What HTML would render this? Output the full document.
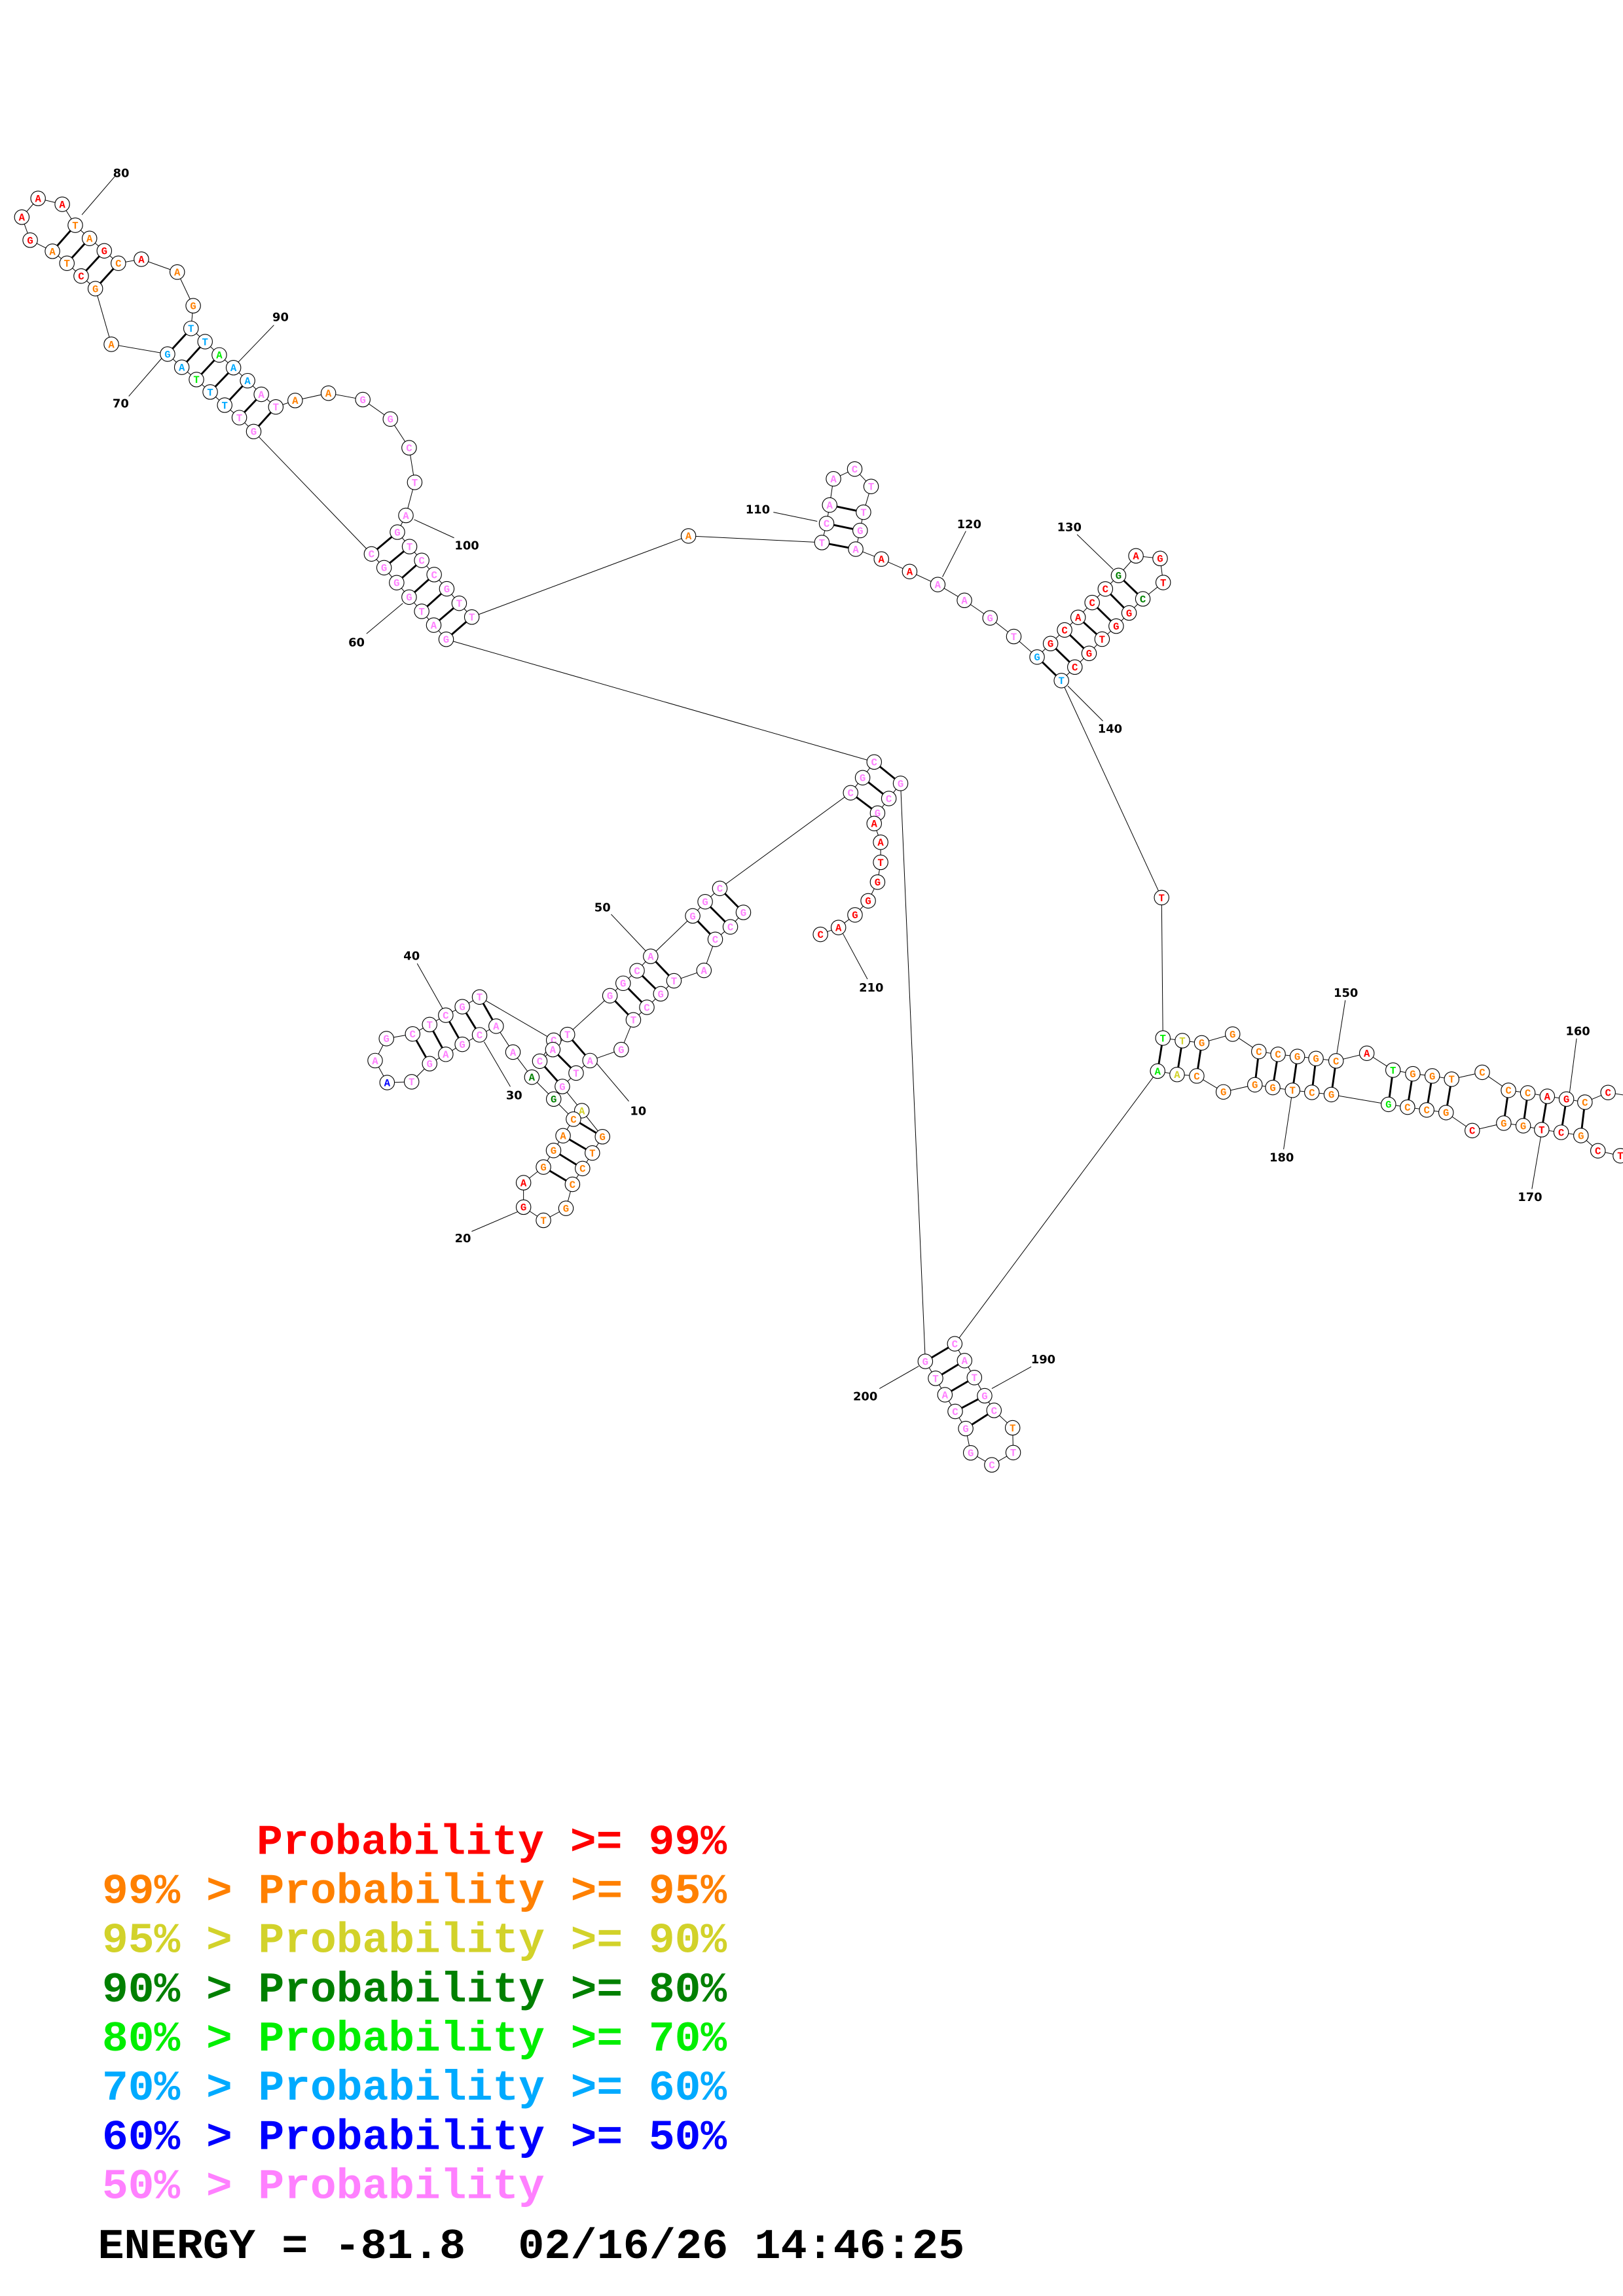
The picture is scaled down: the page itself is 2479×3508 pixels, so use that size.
<!DOCTYPE html>
<html><head><meta charset="utf-8">
<style>
html,body{margin:0;padding:0;background:#fff;}
svg{display:block;}
.n circle{fill:#fff;stroke:#000;stroke-width:0.5;}
.n text{font-family:"Liberation Mono","DejaVu Sans Mono",monospace;font-weight:bold;font-size:7px;text-anchor:middle;}
.r{fill:#ff0000}.o{fill:#ff8000}.y{fill:#d2d22a}.d{fill:#008000}.g{fill:#00ee00}.b{fill:#00aaff}.k{fill:#0000ff}.p{fill:#ff80ff}
.lab{font-family:"DejaVu Sans","Liberation Sans",sans-serif;font-weight:bold;font-size:8px;text-anchor:middle;dominant-baseline:central;fill:#000}
.leg{font-family:"Liberation Mono",monospace;font-weight:bold;font-size:29px;}
</style></head><body>
<svg width="2479" height="3508" viewBox="0 0 1108 1568" preserveAspectRatio="none" xmlns="http://www.w3.org/2000/svg">
<rect x="0" y="0" width="1108" height="1568" fill="#fff"/>
<!-- backbone -->
<polyline fill="none" stroke="#000" stroke-width="0.45" points="
507.5,623.1 498.6,633 488.3,641.5 480.6,662.7 460.1,669.8 451.1,678.7 441.6,687.9 432.4,696.5 424.1,716.8 402.8,724.3
393.3,732.8 383.9,742 397.2,758.5 411.3,776.3 404.4,787.4 397.7,798 390.8,808.8 386.4,825.2 371,833.4 357.4,824.4
357.4,807.7 371,797 377.9,785.7 384.4,775.6 391.5,764.3 378,750.6 363.1,735.6 350.2,718.5 338.7,700.8 327.4,706.7
315.6,713.2 304.3,720 293.3,726.4 281,738.8 264.3,739.3 256.1,724.3 263.8,709.3 281.7,706.1 293.3,699.7 304.3,693.3
315.6,687.5 327.4,680.9 378,710.4 368.5,724.7 377.4,716.8 387.4,706.5 416.4,680 425.4,671.5 434.9,662.9 444.2,653.1
472.9,625.5 481.4,615.8 491.4,606.7 580.7,541.4 588.9,531.1 596.8,520.4 304.6,436.6 296.1,426.9 287.9,417.5 279.3,407.8
270.8,397.9 262.2,387.7 253.6,378.3 173.2,294.7 163.4,285.2 153.4,276.7 143.5,267.7 134.1,259.2 124.1,250.8 114.4,241.8
76,235.1 65.1,197.1 55.4,188.5 45.7,179.8 35.8,171.6 20.6,164 14.9,148.3 26,135.5 42.5,139.5 51.4,153.8
61.1,162.8 71.2,171.3 80.8,179.8 96.5,177 121,185.8 131.9,208.8 130.4,224.3 140,233.3 149.7,242.4 159.4,251.1
169,260 178.4,269.3 188.3,277.9 201.5,273.5 224.2,268.5 247.7,272.9 266.5,286.2 279.3,305.8 283.1,329.4 277.1,352
271.3,363.4 279.6,373.3 287.9,382.7 296.4,392.4 305,402.1 313.5,412 322.1,421.4 470,366 561.1,370.5 564.3,357.5
566.4,344.9 569,327 583.5,320.3 594.7,332.2 589.5,349.8 587.2,362.3 584.2,375 601.7,381.8 621,390.3 640.2,399.2
658.4,410 675.9,422 692.1,434.7 708,448.7 717.2,439.5 726.8,430.2 736,421.6 745.6,411.5 754.6,402.2 763.6,393
775.5,379.6 792,381.4 794.1,397.8 780.2,409 770.8,418.6 762,427.6 752.4,436.5 743.5,446.2 733.8,455.6 724.6,464.8
793,613 793.9,708.9 807.2,710.7 820.4,712.2 841.5,706.2 859.4,718.1 872.5,720 885.7,721.5 898.4,722.9 912.1,724.5
933.1,719.3 951,730.8 964.5,733.3 977.8,734.8 991,737 1011.9,732.3 1029.8,744.6 1043,746.4 1056.3,748.7 1069.4,750.6
1082,752.7 1097.8,746.1 1116,749"/>
<polyline fill="none" stroke="#000" stroke-width="0.45" points="
1120,792 1106.2,789.3 1090.9,785.9 1079.3,775.5 1065.8,773.3 1052.5,771.5 1039.9,768.8 1026.6,767 1005.1,772.1 987.2,759.8
974,758 960.9,756.1 947.9,754.2 908.9,747.5 895.6,746 882.4,744.6 868.9,742.7 856.7,740.8 835.2,745.7 817,734.8
803.6,733.8 790.3,731.5 651.8,917.7 658.5,929.2 665.2,940.8 672.2,953.2 678.6,963.2 691.3,975.1 691.7,992 677.1,1000.4
662.7,992.2 659.3,975.6 652.1,963.9 645.1,952.5 638.7,941.3 631.7,929.7 614.8,535 606.8,545.3 599.1,555.3 596.8,562.4
601.2,575.2 601.2,588.9 599.1,602.4 592.7,615.2 583.7,624.8 572.4,633.4 560.1,638.1"/>
<!-- pairs -->
<g stroke="#000" stroke-width="1.3">
<line x1="507.5" y1="623.1" x2="491.4" y2="606.7"/><line x1="498.6" y1="633" x2="481.4" y2="615.8"/><line x1="488.3" y1="641.5" x2="472.9" y2="625.5"/>
<line x1="460.1" y1="669.8" x2="444.2" y2="653.1"/><line x1="451.1" y1="678.7" x2="434.9" y2="662.9"/><line x1="441.6" y1="687.9" x2="425.4" y2="671.5"/><line x1="432.4" y1="696.5" x2="416.4" y2="680"/>
<line x1="402.8" y1="724.3" x2="387.4" y2="706.5"/><line x1="393.3" y1="732.8" x2="377.4" y2="716.8"/><line x1="383.9" y1="742" x2="368.5" y2="724.7"/>
<line x1="411.3" y1="776.3" x2="391.5" y2="764.3"/><line x1="404.4" y1="787.4" x2="384.4" y2="775.6"/><line x1="397.7" y1="798" x2="377.9" y2="785.7"/><line x1="390.8" y1="808.8" x2="371" y2="797"/>
<line x1="338.7" y1="700.8" x2="327.4" y2="680.9"/><line x1="327.4" y1="706.7" x2="315.6" y2="687.5"/><line x1="315.6" y1="713.2" x2="304.3" y2="693.3"/><line x1="304.3" y1="720" x2="293.3" y2="699.7"/><line x1="293.3" y1="726.4" x2="281.7" y2="706.1"/>
<line x1="580.7" y1="541.4" x2="599.1" y2="555.3"/><line x1="588.9" y1="531.1" x2="606.8" y2="545.3"/><line x1="596.8" y1="520.4" x2="614.8" y2="535"/>
<line x1="304.6" y1="436.6" x2="322.1" y2="421.4"/><line x1="296.1" y1="426.9" x2="313.5" y2="412"/><line x1="287.9" y1="417.5" x2="305" y2="402.1"/><line x1="279.3" y1="407.8" x2="296.4" y2="392.4"/><line x1="270.8" y1="397.9" x2="287.9" y2="382.7"/><line x1="262.2" y1="387.7" x2="279.6" y2="373.3"/><line x1="253.6" y1="378.3" x2="271.3" y2="363.4"/>
<line x1="173.2" y1="294.7" x2="188.3" y2="277.9"/><line x1="163.4" y1="285.2" x2="178.4" y2="269.3"/><line x1="153.4" y1="276.7" x2="169" y2="260"/><line x1="143.5" y1="267.7" x2="159.4" y2="251.1"/><line x1="134.1" y1="259.2" x2="149.7" y2="242.4"/><line x1="124.1" y1="250.8" x2="140" y2="233.3"/><line x1="114.4" y1="241.8" x2="130.4" y2="224.3"/>
<line x1="65.1" y1="197.1" x2="80.8" y2="179.8"/><line x1="55.4" y1="188.5" x2="71.2" y2="171.3"/><line x1="45.7" y1="179.8" x2="61.1" y2="162.8"/><line x1="35.8" y1="171.6" x2="51.4" y2="153.8"/>
<line x1="561.1" y1="370.5" x2="584.2" y2="375"/><line x1="564.3" y1="357.5" x2="587.2" y2="362.3"/><line x1="566.4" y1="344.9" x2="589.5" y2="349.8"/>
<line x1="708" y1="448.7" x2="724.6" y2="464.8"/><line x1="717.2" y1="439.5" x2="733.8" y2="455.6"/><line x1="726.8" y1="430.2" x2="743.5" y2="446.2"/><line x1="736" y1="421.6" x2="752.4" y2="436.5"/><line x1="745.6" y1="411.5" x2="762" y2="427.6"/><line x1="754.6" y1="402.2" x2="770.8" y2="418.6"/><line x1="763.6" y1="393" x2="780.2" y2="409"/>
<line x1="793.9" y1="708.9" x2="790.3" y2="731.5"/><line x1="807.2" y1="710.7" x2="803.6" y2="733.8"/><line x1="820.4" y1="712.2" x2="817" y2="734.8"/>
<line x1="859.4" y1="718.1" x2="856.7" y2="740.8"/><line x1="872.5" y1="720" x2="868.9" y2="742.7"/><line x1="885.7" y1="721.5" x2="882.4" y2="744.6"/><line x1="898.4" y1="722.9" x2="895.6" y2="746"/><line x1="912.1" y1="724.5" x2="908.9" y2="747.5"/>
<line x1="951" y1="730.8" x2="947.9" y2="754.2"/><line x1="964.5" y1="733.3" x2="960.9" y2="756.1"/><line x1="977.8" y1="734.8" x2="974" y2="758"/><line x1="991" y1="737" x2="987.2" y2="759.8"/>
<line x1="1029.8" y1="744.6" x2="1026.6" y2="767"/><line x1="1043" y1="746.4" x2="1039.9" y2="768.8"/><line x1="1056.3" y1="748.7" x2="1052.5" y2="771.5"/><line x1="1069.4" y1="750.6" x2="1065.8" y2="773.3"/><line x1="1082" y1="752.7" x2="1079.3" y2="775.5"/>
<line x1="631.7" y1="929.7" x2="651.8" y2="917.7"/><line x1="638.7" y1="941.3" x2="658.5" y2="929.2"/><line x1="645.1" y1="952.5" x2="665.2" y2="940.8"/><line x1="652.1" y1="963.9" x2="672.2" y2="953.2"/><line x1="659.3" y1="975.6" x2="678.6" y2="963.2"/>
</g>
<!-- number labels -->
<g stroke="#000" stroke-width="0.45">
<line x1="407.5" y1="726.4" x2="429.3" y2="752.1"/><line x1="357" y1="826" x2="322" y2="841"/><line x1="330.5" y1="711.5" x2="348.4" y2="742.1"/>
<line x1="284.8" y1="658" x2="302.3" y2="689"/><line x1="417.2" y1="624.4" x2="440.8" y2="649.4"/><line x1="250.2" y1="432.8" x2="275" y2="412"/>
<line x1="87.9" y1="270.6" x2="111" y2="244"/><line x1="55.9" y1="146.7" x2="78.2" y2="120.7"/><line x1="162" y1="248" x2="187" y2="222"/>
<line x1="282.7" y1="354.8" x2="310" y2="367.3"/><line x1="528" y1="349.8" x2="557.9" y2="356"/><line x1="643.4" y1="394" x2="659.4" y2="362.7"/>
<line x1="735.3" y1="365" x2="759.9" y2="388.8"/><line x1="729" y1="468.5" x2="752.9" y2="492.4"/><line x1="918.4" y1="683.1" x2="912.5" y2="720.4"/>
<line x1="1076.3" y1="709.2" x2="1071.5" y2="746.4"/><line x1="1045.8" y1="812" x2="1051.9" y2="776.2"/><line x1="876.3" y1="784.9" x2="882" y2="747.2"/>
<line x1="704" y1="933.4" x2="677.1" y2="948.3"/><line x1="600.4" y1="948.3" x2="627.2" y2="933"/><line x1="592.2" y1="668.7" x2="575.5" y2="637.7"/>
</g>
<g class="lab">
<text x="435.7" y="759">10</text><text x="316" y="846">20</text><text x="351" y="748.3">30</text><text x="281" y="653.1">40</text>
<text x="411.3" y="619.9">50</text><text x="243.4" y="439">60</text><text x="82.4" y="275.7">70</text><text x="82.7" y="118.4">80</text>
<text x="191.5" y="216.8">90</text><text x="318.7" y="372.8">100</text><text x="517.3" y="348.3">110</text><text x="661.6" y="358.3">120</text>
<text x="730" y="360.2">130</text><text x="757.8" y="497.9">140</text><text x="918.8" y="678.2">150</text><text x="1077.2" y="704.4">160</text>
<text x="1044.5" y="817.7">170</text><text x="875" y="790.7">180</text><text x="712.2" y="928.5">190</text><text x="590.7" y="953.8">200</text>
<text x="594.8" y="674.7">210</text>
</g>
<!-- nodes -->
<g class="n">
<circle cx="507.5" cy="623.1" r="5"/><text x="507.5" y="625.5" class="p">G</text>
<circle cx="498.6" cy="633" r="5"/><text x="498.6" y="635.4" class="p">C</text>
<circle cx="488.3" cy="641.5" r="5"/><text x="488.3" y="643.9" class="p">C</text>
<circle cx="480.6" cy="662.7" r="5"/><text x="480.6" y="665.1" class="p">A</text>
<circle cx="460.1" cy="669.8" r="5"/><text x="460.1" y="672.2" class="p">T</text>
<circle cx="451.1" cy="678.7" r="5"/><text x="451.1" y="681.1" class="p">G</text>
<circle cx="441.6" cy="687.9" r="5"/><text x="441.6" y="690.3" class="p">C</text>
<circle cx="432.4" cy="696.5" r="5"/><text x="432.4" y="698.9" class="p">T</text>
<circle cx="424.1" cy="716.8" r="5"/><text x="424.1" y="719.2" class="p">G</text>
<circle cx="402.8" cy="724.3" r="5"/><text x="402.8" y="726.7" class="p">A</text>
<circle cx="393.3" cy="732.8" r="5"/><text x="393.3" y="735.2" class="p">T</text>
<circle cx="383.9" cy="742" r="5"/><text x="383.9" y="744.4" class="p">G</text>
<circle cx="397.2" cy="758.5" r="5"/><text x="397.2" y="760.9" class="y">A</text>
<circle cx="411.3" cy="776.3" r="5"/><text x="411.3" y="778.7" class="o">G</text>
<circle cx="404.4" cy="787.4" r="5"/><text x="404.4" y="789.8" class="o">T</text>
<circle cx="397.7" cy="798" r="5"/><text x="397.7" y="800.4" class="o">C</text>
<circle cx="390.8" cy="808.8" r="5"/><text x="390.8" y="811.2" class="o">C</text>
<circle cx="386.4" cy="825.2" r="5"/><text x="386.4" y="827.6" class="o">G</text>
<circle cx="371" cy="833.4" r="5"/><text x="371" y="835.8" class="o">T</text>
<circle cx="357.4" cy="824.4" r="5"/><text x="357.4" y="826.8" class="r">G</text>
<circle cx="357.4" cy="807.7" r="5"/><text x="357.4" y="810.1" class="r">A</text>
<circle cx="371" cy="797" r="5"/><text x="371" y="799.4" class="o">G</text>
<circle cx="377.9" cy="785.7" r="5"/><text x="377.9" y="788.1" class="o">G</text>
<circle cx="384.4" cy="775.6" r="5"/><text x="384.4" y="778" class="o">A</text>
<circle cx="391.5" cy="764.3" r="5"/><text x="391.5" y="766.7" class="o">C</text>
<circle cx="378" cy="750.6" r="5"/><text x="378" y="753" class="d">G</text>
<circle cx="363.1" cy="735.6" r="5"/><text x="363.1" y="738" class="d">A</text>
<circle cx="350.2" cy="718.5" r="5"/><text x="350.2" y="720.9" class="p">A</text>
<circle cx="338.7" cy="700.8" r="5"/><text x="338.7" y="703.2" class="p">A</text>
<circle cx="327.4" cy="706.7" r="5"/><text x="327.4" y="709.1" class="p">C</text>
<circle cx="315.6" cy="713.2" r="5"/><text x="315.6" y="715.6" class="p">G</text>
<circle cx="304.3" cy="720" r="5"/><text x="304.3" y="722.4" class="p">A</text>
<circle cx="293.3" cy="726.4" r="5"/><text x="293.3" y="728.8" class="p">G</text>
<circle cx="281" cy="738.8" r="5"/><text x="281" y="741.2" class="p">T</text>
<circle cx="264.3" cy="739.3" r="5"/><text x="264.3" y="741.7" class="k">A</text>
<circle cx="256.1" cy="724.3" r="5"/><text x="256.1" y="726.7" class="p">A</text>
<circle cx="263.8" cy="709.3" r="5"/><text x="263.8" y="711.7" class="p">G</text>
<circle cx="281.7" cy="706.1" r="5"/><text x="281.7" y="708.5" class="p">C</text>
<circle cx="293.3" cy="699.7" r="5"/><text x="293.3" y="702.1" class="p">T</text>
<circle cx="304.3" cy="693.3" r="5"/><text x="304.3" y="695.7" class="p">C</text>
<circle cx="315.6" cy="687.5" r="5"/><text x="315.6" y="689.9" class="p">G</text>
<circle cx="327.4" cy="680.9" r="5"/><text x="327.4" y="683.3" class="p">T</text>
<circle cx="378" cy="710.4" r="5"/><text x="378" y="712.8" class="p">C</text>
<circle cx="368.5" cy="724.7" r="5"/><text x="368.5" y="727.1" class="p">C</text>
<circle cx="377.4" cy="716.8" r="5"/><text x="377.4" y="719.2" class="p">A</text>
<circle cx="387.4" cy="706.5" r="5"/><text x="387.4" y="708.9" class="p">T</text>
<circle cx="416.4" cy="680" r="5"/><text x="416.4" y="682.4" class="p">G</text>
<circle cx="425.4" cy="671.5" r="5"/><text x="425.4" y="673.9" class="p">G</text>
<circle cx="434.9" cy="662.9" r="5"/><text x="434.9" y="665.3" class="p">C</text>
<circle cx="444.2" cy="653.1" r="5"/><text x="444.2" y="655.5" class="p">A</text>
<circle cx="472.9" cy="625.5" r="5"/><text x="472.9" y="627.9" class="p">G</text>
<circle cx="481.4" cy="615.8" r="5"/><text x="481.4" y="618.2" class="p">G</text>
<circle cx="491.4" cy="606.7" r="5"/><text x="491.4" y="609.1" class="p">C</text>
<circle cx="580.7" cy="541.4" r="5"/><text x="580.7" y="543.8" class="p">C</text>
<circle cx="588.9" cy="531.1" r="5"/><text x="588.9" y="533.5" class="p">G</text>
<circle cx="596.8" cy="520.4" r="5"/><text x="596.8" y="522.8" class="p">C</text>
<circle cx="304.6" cy="436.6" r="5"/><text x="304.6" y="439" class="p">G</text>
<circle cx="296.1" cy="426.9" r="5"/><text x="296.1" y="429.3" class="p">A</text>
<circle cx="287.9" cy="417.5" r="5"/><text x="287.9" y="419.9" class="p">T</text>
<circle cx="279.3" cy="407.8" r="5"/><text x="279.3" y="410.2" class="p">G</text>
<circle cx="270.8" cy="397.9" r="5"/><text x="270.8" y="400.3" class="p">G</text>
<circle cx="262.2" cy="387.7" r="5"/><text x="262.2" y="390.1" class="p">G</text>
<circle cx="253.6" cy="378.3" r="5"/><text x="253.6" y="380.7" class="p">C</text>
<circle cx="173.2" cy="294.7" r="5"/><text x="173.2" y="297.1" class="p">G</text>
<circle cx="163.4" cy="285.2" r="5"/><text x="163.4" y="287.6" class="p">T</text>
<circle cx="153.4" cy="276.7" r="5"/><text x="153.4" y="279.1" class="b">T</text>
<circle cx="143.5" cy="267.7" r="5"/><text x="143.5" y="270.1" class="b">T</text>
<circle cx="134.1" cy="259.2" r="5"/><text x="134.1" y="261.6" class="g">T</text>
<circle cx="124.1" cy="250.8" r="5"/><text x="124.1" y="253.2" class="b">A</text>
<circle cx="114.4" cy="241.8" r="5"/><text x="114.4" y="244.2" class="b">G</text>
<circle cx="76" cy="235.1" r="5"/><text x="76" y="237.5" class="o">A</text>
<circle cx="65.1" cy="197.1" r="5"/><text x="65.1" y="199.5" class="o">G</text>
<circle cx="55.4" cy="188.5" r="5"/><text x="55.4" y="190.9" class="r">C</text>
<circle cx="45.7" cy="179.8" r="5"/><text x="45.7" y="182.2" class="o">T</text>
<circle cx="35.8" cy="171.6" r="5"/><text x="35.8" y="174" class="o">A</text>
<circle cx="20.6" cy="164" r="5"/><text x="20.6" y="166.4" class="r">G</text>
<circle cx="14.9" cy="148.3" r="5"/><text x="14.9" y="150.7" class="r">A</text>
<circle cx="26" cy="135.5" r="5"/><text x="26" y="137.9" class="r">A</text>
<circle cx="42.5" cy="139.5" r="5"/><text x="42.5" y="141.9" class="r">A</text>
<circle cx="51.4" cy="153.8" r="5"/><text x="51.4" y="156.2" class="o">T</text>
<circle cx="61.1" cy="162.8" r="5"/><text x="61.1" y="165.2" class="o">A</text>
<circle cx="71.2" cy="171.3" r="5"/><text x="71.2" y="173.7" class="r">G</text>
<circle cx="80.8" cy="179.8" r="5"/><text x="80.8" y="182.2" class="o">C</text>
<circle cx="96.5" cy="177" r="5"/><text x="96.5" y="179.4" class="r">A</text>
<circle cx="121" cy="185.8" r="5"/><text x="121" y="188.2" class="o">A</text>
<circle cx="131.9" cy="208.8" r="5"/><text x="131.9" y="211.2" class="o">G</text>
<circle cx="130.4" cy="224.3" r="5"/><text x="130.4" y="226.7" class="b">T</text>
<circle cx="140" cy="233.3" r="5"/><text x="140" y="235.7" class="b">T</text>
<circle cx="149.7" cy="242.4" r="5"/><text x="149.7" y="244.8" class="g">A</text>
<circle cx="159.4" cy="251.1" r="5"/><text x="159.4" y="253.5" class="b">A</text>
<circle cx="169" cy="260" r="5"/><text x="169" y="262.4" class="b">A</text>
<circle cx="178.4" cy="269.3" r="5"/><text x="178.4" y="271.7" class="p">A</text>
<circle cx="188.3" cy="277.9" r="5"/><text x="188.3" y="280.3" class="p">T</text>
<circle cx="201.5" cy="273.5" r="5"/><text x="201.5" y="275.9" class="o">A</text>
<circle cx="224.2" cy="268.5" r="5"/><text x="224.2" y="270.9" class="o">A</text>
<circle cx="247.7" cy="272.9" r="5"/><text x="247.7" y="275.3" class="p">G</text>
<circle cx="266.5" cy="286.2" r="5"/><text x="266.5" y="288.6" class="p">G</text>
<circle cx="279.3" cy="305.8" r="5"/><text x="279.3" y="308.2" class="p">C</text>
<circle cx="283.1" cy="329.4" r="5"/><text x="283.1" y="331.8" class="p">T</text>
<circle cx="277.1" cy="352" r="5"/><text x="277.1" y="354.4" class="p">A</text>
<circle cx="271.3" cy="363.4" r="5"/><text x="271.3" y="365.8" class="p">G</text>
<circle cx="279.6" cy="373.3" r="5"/><text x="279.6" y="375.7" class="p">T</text>
<circle cx="287.9" cy="382.7" r="5"/><text x="287.9" y="385.1" class="p">C</text>
<circle cx="296.4" cy="392.4" r="5"/><text x="296.4" y="394.8" class="p">C</text>
<circle cx="305" cy="402.1" r="5"/><text x="305" y="404.5" class="p">G</text>
<circle cx="313.5" cy="412" r="5"/><text x="313.5" y="414.4" class="p">T</text>
<circle cx="322.1" cy="421.4" r="5"/><text x="322.1" y="423.8" class="p">T</text>
<circle cx="470" cy="366" r="5"/><text x="470" y="368.4" class="o">A</text>
<circle cx="561.1" cy="370.5" r="5"/><text x="561.1" y="372.9" class="p">T</text>
<circle cx="564.3" cy="357.5" r="5"/><text x="564.3" y="359.9" class="p">C</text>
<circle cx="566.4" cy="344.9" r="5"/><text x="566.4" y="347.3" class="p">A</text>
<circle cx="569" cy="327" r="5"/><text x="569" y="329.4" class="p">A</text>
<circle cx="583.5" cy="320.3" r="5"/><text x="583.5" y="322.7" class="p">C</text>
<circle cx="594.7" cy="332.2" r="5"/><text x="594.7" y="334.6" class="p">T</text>
<circle cx="589.5" cy="349.8" r="5"/><text x="589.5" y="352.2" class="p">T</text>
<circle cx="587.2" cy="362.3" r="5"/><text x="587.2" y="364.7" class="p">G</text>
<circle cx="584.2" cy="375" r="5"/><text x="584.2" y="377.4" class="p">A</text>
<circle cx="601.7" cy="381.8" r="5"/><text x="601.7" y="384.2" class="r">A</text>
<circle cx="621" cy="390.3" r="5"/><text x="621" y="392.7" class="r">A</text>
<circle cx="640.2" cy="399.2" r="5"/><text x="640.2" y="401.6" class="p">A</text>
<circle cx="658.4" cy="410" r="5"/><text x="658.4" y="412.4" class="p">A</text>
<circle cx="675.9" cy="422" r="5"/><text x="675.9" y="424.4" class="p">G</text>
<circle cx="692.1" cy="434.7" r="5"/><text x="692.1" y="437.1" class="p">T</text>
<circle cx="708" cy="448.7" r="5"/><text x="708" y="451.1" class="b">G</text>
<circle cx="717.2" cy="439.5" r="5"/><text x="717.2" y="441.9" class="r">G</text>
<circle cx="726.8" cy="430.2" r="5"/><text x="726.8" y="432.6" class="r">C</text>
<circle cx="736" cy="421.6" r="5"/><text x="736" y="424" class="r">A</text>
<circle cx="745.6" cy="411.5" r="5"/><text x="745.6" y="413.9" class="r">C</text>
<circle cx="754.6" cy="402.2" r="5"/><text x="754.6" y="404.6" class="r">C</text>
<circle cx="763.6" cy="393" r="5"/><text x="763.6" y="395.4" class="d">G</text>
<circle cx="775.5" cy="379.6" r="5"/><text x="775.5" y="382" class="r">A</text>
<circle cx="792" cy="381.4" r="5"/><text x="792" y="383.8" class="r">G</text>
<circle cx="794.1" cy="397.8" r="5"/><text x="794.1" y="400.2" class="r">T</text>
<circle cx="780.2" cy="409" r="5"/><text x="780.2" y="411.4" class="d">C</text>
<circle cx="770.8" cy="418.6" r="5"/><text x="770.8" y="421" class="r">G</text>
<circle cx="762" cy="427.6" r="5"/><text x="762" y="430" class="r">G</text>
<circle cx="752.4" cy="436.5" r="5"/><text x="752.4" y="438.9" class="r">T</text>
<circle cx="743.5" cy="446.2" r="5"/><text x="743.5" y="448.6" class="r">G</text>
<circle cx="733.8" cy="455.6" r="5"/><text x="733.8" y="458" class="r">C</text>
<circle cx="724.6" cy="464.8" r="5"/><text x="724.6" y="467.2" class="b">T</text>
<circle cx="793" cy="613" r="5"/><text x="793" y="615.4" class="r">T</text>
<circle cx="793.9" cy="708.9" r="5"/><text x="793.9" y="711.3" class="g">T</text>
<circle cx="807.2" cy="710.7" r="5"/><text x="807.2" y="713.1" class="y">T</text>
<circle cx="820.4" cy="712.2" r="5"/><text x="820.4" y="714.6" class="o">G</text>
<circle cx="841.5" cy="706.2" r="5"/><text x="841.5" y="708.6" class="o">G</text>
<circle cx="859.4" cy="718.1" r="5"/><text x="859.4" y="720.5" class="o">C</text>
<circle cx="872.5" cy="720" r="5"/><text x="872.5" y="722.4" class="o">C</text>
<circle cx="885.7" cy="721.5" r="5"/><text x="885.7" y="723.9" class="o">G</text>
<circle cx="898.4" cy="722.9" r="5"/><text x="898.4" y="725.3" class="o">G</text>
<circle cx="912.1" cy="724.5" r="5"/><text x="912.1" y="726.9" class="o">C</text>
<circle cx="933.1" cy="719.3" r="5"/><text x="933.1" y="721.7" class="r">A</text>
<circle cx="951" cy="730.8" r="5"/><text x="951" y="733.2" class="g">T</text>
<circle cx="964.5" cy="733.3" r="5"/><text x="964.5" y="735.7" class="o">G</text>
<circle cx="977.8" cy="734.8" r="5"/><text x="977.8" y="737.2" class="o">G</text>
<circle cx="991" cy="737" r="5"/><text x="991" y="739.4" class="o">T</text>
<circle cx="1011.9" cy="732.3" r="5"/><text x="1011.9" y="734.7" class="o">C</text>
<circle cx="1029.8" cy="744.6" r="5"/><text x="1029.8" y="747" class="o">C</text>
<circle cx="1043" cy="746.4" r="5"/><text x="1043" y="748.8" class="o">C</text>
<circle cx="1056.3" cy="748.7" r="5"/><text x="1056.3" y="751.1" class="r">A</text>
<circle cx="1069.4" cy="750.6" r="5"/><text x="1069.4" y="753" class="r">G</text>
<circle cx="1082" cy="752.7" r="5"/><text x="1082" y="755.1" class="o">C</text>
<circle cx="1097.8" cy="746.1" r="5"/><text x="1097.8" y="748.5" class="r">C</text>
<circle cx="1106.2" cy="789.3" r="5"/><text x="1106.2" y="791.7" class="r">T</text>
<circle cx="1090.9" cy="785.9" r="5"/><text x="1090.9" y="788.3" class="r">C</text>
<circle cx="1079.3" cy="775.5" r="5"/><text x="1079.3" y="777.9" class="o">G</text>
<circle cx="1065.8" cy="773.3" r="5"/><text x="1065.8" y="775.7" class="r">C</text>
<circle cx="1052.5" cy="771.5" r="5"/><text x="1052.5" y="773.9" class="r">T</text>
<circle cx="1039.9" cy="768.8" r="5"/><text x="1039.9" y="771.2" class="o">G</text>
<circle cx="1026.6" cy="767" r="5"/><text x="1026.6" y="769.4" class="o">G</text>
<circle cx="1005.1" cy="772.1" r="5"/><text x="1005.1" y="774.5" class="r">C</text>
<circle cx="987.2" cy="759.8" r="5"/><text x="987.2" y="762.2" class="o">G</text>
<circle cx="974" cy="758" r="5"/><text x="974" y="760.4" class="o">C</text>
<circle cx="960.9" cy="756.1" r="5"/><text x="960.9" y="758.5" class="o">C</text>
<circle cx="947.9" cy="754.2" r="5"/><text x="947.9" y="756.6" class="g">G</text>
<circle cx="908.9" cy="747.5" r="5"/><text x="908.9" y="749.9" class="o">G</text>
<circle cx="895.6" cy="746" r="5"/><text x="895.6" y="748.4" class="o">C</text>
<circle cx="882.4" cy="744.6" r="5"/><text x="882.4" y="747" class="o">T</text>
<circle cx="868.9" cy="742.7" r="5"/><text x="868.9" y="745.1" class="o">G</text>
<circle cx="856.7" cy="740.8" r="5"/><text x="856.7" y="743.2" class="o">G</text>
<circle cx="835.2" cy="745.7" r="5"/><text x="835.2" y="748.1" class="o">G</text>
<circle cx="817" cy="734.8" r="5"/><text x="817" y="737.2" class="o">C</text>
<circle cx="803.6" cy="733.8" r="5"/><text x="803.6" y="736.2" class="y">A</text>
<circle cx="790.3" cy="731.5" r="5"/><text x="790.3" y="733.9" class="g">A</text>
<circle cx="651.8" cy="917.7" r="5"/><text x="651.8" y="920.1" class="p">C</text>
<circle cx="658.5" cy="929.2" r="5"/><text x="658.5" y="931.6" class="p">A</text>
<circle cx="665.2" cy="940.8" r="5"/><text x="665.2" y="943.2" class="p">T</text>
<circle cx="672.2" cy="953.2" r="5"/><text x="672.2" y="955.6" class="p">G</text>
<circle cx="678.6" cy="963.2" r="5"/><text x="678.6" y="965.6" class="p">C</text>
<circle cx="691.3" cy="975.1" r="5"/><text x="691.3" y="977.5" class="o">T</text>
<circle cx="691.7" cy="992" r="5"/><text x="691.7" y="994.4" class="p">T</text>
<circle cx="677.1" cy="1000.4" r="5"/><text x="677.1" y="1002.8" class="p">C</text>
<circle cx="662.7" cy="992.2" r="5"/><text x="662.7" y="994.6" class="p">G</text>
<circle cx="659.3" cy="975.6" r="5"/><text x="659.3" y="978" class="p">G</text>
<circle cx="652.1" cy="963.9" r="5"/><text x="652.1" y="966.3" class="p">C</text>
<circle cx="645.1" cy="952.5" r="5"/><text x="645.1" y="954.9" class="p">A</text>
<circle cx="638.7" cy="941.3" r="5"/><text x="638.7" y="943.7" class="p">T</text>
<circle cx="631.7" cy="929.7" r="5"/><text x="631.7" y="932.1" class="p">G</text>
<circle cx="614.8" cy="535" r="5"/><text x="614.8" y="537.4" class="p">G</text>
<circle cx="606.8" cy="545.3" r="5"/><text x="606.8" y="547.7" class="p">C</text>
<circle cx="599.1" cy="555.3" r="5"/><text x="599.1" y="557.7" class="p">G</text>
<circle cx="596.8" cy="562.4" r="5"/><text x="596.8" y="564.8" class="r">A</text>
<circle cx="601.2" cy="575.2" r="5"/><text x="601.2" y="577.6" class="r">A</text>
<circle cx="601.2" cy="588.9" r="5"/><text x="601.2" y="591.3" class="r">T</text>
<circle cx="599.1" cy="602.4" r="5"/><text x="599.1" y="604.8" class="r">G</text>
<circle cx="592.7" cy="615.2" r="5"/><text x="592.7" y="617.6" class="r">G</text>
<circle cx="583.7" cy="624.8" r="5"/><text x="583.7" y="627.2" class="r">G</text>
<circle cx="572.4" cy="633.4" r="5"/><text x="572.4" y="635.8" class="r">A</text>
<circle cx="560.1" cy="638.1" r="5"/><text x="560.1" y="640.5" class="r">C</text>
</g>
<!-- legend -->
<g class="leg">
<text x="175.2" y="1266" fill="#ff0000" textLength="321" lengthAdjust="spacingAndGlyphs">Probability &gt;= 99%</text>
<text x="69.7" y="1299.6" fill="#ff8000" textLength="426.5" lengthAdjust="spacingAndGlyphs">99% &gt; Probability &gt;= 95%</text>
<text x="69.7" y="1333.2" fill="#d2d22a" textLength="426.5" lengthAdjust="spacingAndGlyphs">95% &gt; Probability &gt;= 90%</text>
<text x="69.7" y="1366.8" fill="#008000" textLength="426.5" lengthAdjust="spacingAndGlyphs">90% &gt; Probability &gt;= 80%</text>
<text x="69.7" y="1400.4" fill="#00ee00" textLength="426.5" lengthAdjust="spacingAndGlyphs">80% &gt; Probability &gt;= 70%</text>
<text x="69.7" y="1434" fill="#00aaff" textLength="426.5" lengthAdjust="spacingAndGlyphs">70% &gt; Probability &gt;= 60%</text>
<text x="69.7" y="1467.6" fill="#0000ff" textLength="426.5" lengthAdjust="spacingAndGlyphs">60% &gt; Probability &gt;= 50%</text>
<text x="69.7" y="1501.2" fill="#ff80ff" textLength="302" lengthAdjust="spacingAndGlyphs">50% &gt; Probability</text>
<text x="66.8" y="1542" fill="#000" textLength="591.7" lengthAdjust="spacingAndGlyphs" xml:space="preserve">ENERGY = -81.8  02/16/26 14:46:25</text>
</g>
</svg>
</body></html>
